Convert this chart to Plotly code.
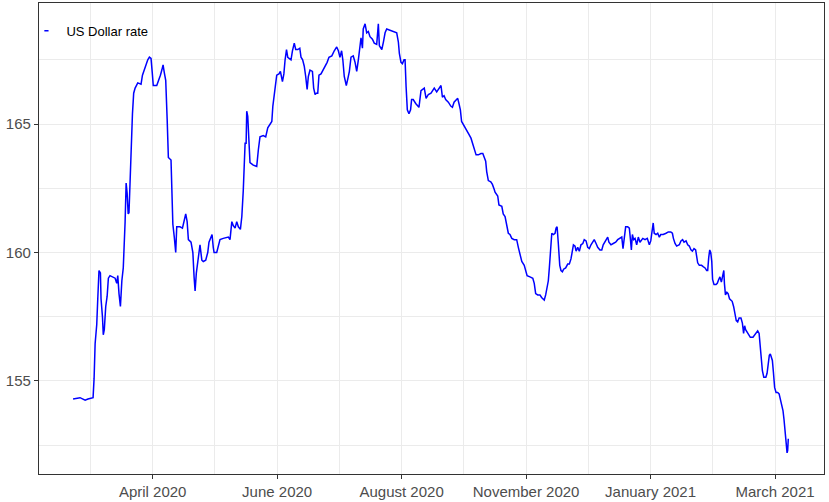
import pandas as pd
import plotly.graph_objects as go

start_date = "2020-02-22"

days = [
    0, 3.4, 5.9, 7.3, 9.8, 10.3, 10.8, 11.6, 12.1, 12.7, 13.4, 13.7, 14.4, 14.8, 15.3, 16.0, 16.7, 17.3, 18.1, 19.7,
    20.6, 21.4, 21.9, 22.5, 23.2, 23.9, 24.6, 25.5, 26.0, 26.5, 27.0, 27.4, 27.9, 28.4, 29.1, 29.7, 30.4, 31.7, 33.3, 34.0,
    34.9, 35.6, 36.6, 37.4, 38.2, 38.8, 39.3, 41.0, 41.8, 42.8, 43.5, 44.1, 44.7, 45.4, 46.1, 46.7, 48.0, 48.4, 48.9, 49.6,
    50.3, 50.8, 52.4, 53.6, 54.5, 55.2, 55.9, 56.5, 57.8, 58.7, 59.3, 59.8, 60.4, 61.1, 61.7, 62.2, 63.1, 63.8, 65.0, 66.0,
    66.6, 67.5, 68.1, 68.7, 69.1, 70.4, 71.2, 72.0, 73.6, 75.3, 76.1, 76.9, 77.8, 78.5, 79.4, 80.2, 81.0, 82.0, 82.7, 83.4,
    84.3, 84.8, 85.1, 85.6, 86.1, 86.7, 88.3, 90.0, 90.8, 91.6, 93.2, 94.4, 95.4, 96.5, 97.4, 97.9, 98.5, 99.3, 99.8, 100.9,
    101.6, 102.6, 103.3, 103.9, 104.6, 105.2, 105.8, 106.8, 107.5, 108.4, 109.1, 110.1, 111.1, 111.7, 112.5, 113.3, 114.0, 114.7, 115.3, 116.1,
    117.3, 117.9, 118.6, 119.2, 119.9, 120.5, 121.5, 122.5, 123.5, 124.5, 125.4, 126.8, 128.0, 129.2, 130.0, 130.8, 131.6, 132.2, 132.9, 133.9,
    134.6, 135.4, 136.2, 137.3, 138.2, 139.0, 139.8, 140.6, 141.1, 141.8, 142.2, 143.1, 143.9, 144.7, 145.5, 146.7, 147.6, 148.8, 149.6, 150.1,
    151.3, 152.1, 152.9, 153.7, 155.3, 156.9, 158.6, 159.4, 159.9, 160.7, 161.4, 162.2, 162.7, 163.2, 163.8, 164.6, 165.4, 165.9, 166.7, 167.9,
    168.9, 169.5, 170.5, 171.4, 172.1, 173.0, 174.1, 175.4, 176.5, 177.0, 178.2, 179.3, 180.3, 181.0, 181.8, 182.6, 183.9, 185.1, 185.9, 186.7,
    187.7, 188.5, 189.1, 189.8, 190.4, 191.6, 192.4, 193.2, 194.0, 195.0, 195.7, 196.5, 197.5, 198.6, 199.9, 200.8, 201.5, 202.2, 202.7, 203.5,
    204.7, 205.5, 206.4, 206.8, 208.1, 208.7, 210.1, 210.8, 211.7, 212.5, 213.3, 214.1, 215.0, 216.2, 217.4, 218.2, 219.0, 219.9, 221.1, 221.8,
    222.5, 223.9, 225.3, 226.0, 226.7, 227.7, 228.8, 229.6, 230.4, 230.9, 231.6, 232.3, 232.9, 233.4, 233.9, 234.6, 235.4, 236.2, 236.7, 237.2,
    237.8, 238.5, 239.1, 239.8, 240.4, 241.4, 242.4, 243.2, 244.0, 244.7, 245.2, 246.0, 246.5, 247.3, 248.1, 248.9, 249.8, 250.5, 251.4, 252.2,
    253.0, 253.8, 254.8, 255.4, 256.3, 257.1, 258.2, 259.1, 259.8, 261.0, 262.0, 262.6, 263.6, 264.7, 265.9, 266.9, 268.0, 268.9, 269.5, 270.1,
    270.8, 271.8, 272.6, 273.1, 273.6, 274.1, 274.7, 275.4, 276.2, 277.0, 277.8, 279.2, 280.3, 281.4, 282.4, 283.1, 283.7, 284.3, 284.8, 285.7,
    286.5, 287.3, 288.0, 289.2, 290.6, 291.7, 292.9, 293.7, 294.2, 295.0, 295.8, 297.1, 297.9, 298.7, 299.4, 300.4, 301.2, 302.0, 302.8, 303.5,
    304.3, 305.1, 305.6, 306.1, 306.9, 308.0, 308.8, 309.7, 310.5, 311.0, 311.5, 312.0, 312.5, 313.0, 313.4, 314.1, 315.1, 315.7, 316.4, 317.0,
    317.7, 318.4, 318.9, 319.2, 319.7, 320.4, 321.0, 321.7, 322.4, 323.0, 323.7, 324.4, 325.0, 325.7, 326.4, 327.3, 328.0, 328.6, 329.1, 329.6,
    330.3, 330.9, 331.9, 333.2, 334.2, 334.9, 335.5, 336.2, 336.7, 337.2, 337.8, 338.5, 339.5, 340.1, 340.6, 341.2, 341.7, 342.2, 342.7, 343.2,
    343.8, 344.5, 345.3, 346.0, 346.6, 347.5, 347.9, 348.4, 348.9, 349.2, 349.6, 349.9, 350.2, 350.5,
]

usd_rate = [
    154.3, 154.35, 154.25, 154.3, 154.35, 155.1, 156.45, 157.2, 158.2, 159.3, 159.2, 158.2, 157.5, 156.8, 157.0, 157.9, 158.3, 159.0, 159.1, 159.05,
    159.0, 158.8, 159.1, 158.4, 157.9, 158.9, 159.4, 161.2, 162.7, 162.3, 161.5, 161.55, 162.6, 164.4, 165.4, 166.2, 166.4, 166.6, 166.55, 166.9,
    167.1, 167.3, 167.5, 167.6, 167.55, 167.0, 166.5, 166.5, 166.65, 166.9, 167.1, 167.3, 167.0, 166.7, 165.2, 163.7, 163.6, 162.4, 161.1, 160.6,
    160.0, 161.0, 161.0, 160.95, 161.2, 161.5, 161.2, 160.5, 160.4, 160.0, 159.05, 158.5, 159.2, 159.6, 160.0, 160.3, 159.7, 159.65, 159.7, 160.0,
    160.4, 160.6, 160.7, 160.2, 160.0, 160.0, 160.25, 160.5, 160.55, 160.6, 160.6, 160.5, 161.2, 161.05, 160.95, 161.2, 161.0, 160.9, 161.4, 162.4,
    164.25, 164.25, 165.5, 165.3, 164.3, 163.5, 163.4, 163.35, 164.0, 164.5, 164.55, 164.5, 164.85, 165.0, 165.1, 165.7, 166.1, 166.5, 166.9, 166.95,
    167.05, 166.65, 166.95, 167.5, 167.9, 167.6, 167.55, 167.5, 167.85, 168.15, 167.9, 167.9, 167.95, 167.6, 167.5, 167.25, 166.85, 166.35, 166.85, 167.1,
    167.05, 166.4, 166.15, 166.2, 166.2, 166.9, 166.95, 167.1, 167.25, 167.4, 167.6, 167.65, 167.85, 168.0, 167.85, 167.6, 167.85, 167.5, 166.85, 166.5,
    166.75, 167.05, 167.6, 167.65, 167.4, 167.05, 167.5, 168.2, 168.35, 167.95, 168.7, 168.9, 168.55, 168.6, 168.4, 168.3, 168.15, 168.1, 168.9, 168.05,
    167.9, 168.2, 168.55, 168.7, 168.65, 168.6, 168.55, 168.2, 167.75, 167.4, 167.35, 167.5, 167.5, 166.45, 165.55, 165.4, 165.55, 165.95, 165.95, 165.8,
    165.7, 165.65, 166.3, 166.35, 166.4, 166.0, 166.15, 166.2, 166.35, 166.4, 166.25, 166.4, 166.5, 166.05, 166.1, 165.95, 165.85, 165.7, 165.65, 165.85,
    165.95, 166.0, 165.8, 165.55, 165.1, 164.95, 164.85, 164.7, 164.6, 164.45, 164.25, 164.0, 163.8, 163.8, 163.85, 163.85, 163.7, 163.55, 163.15, 162.8,
    162.75, 162.65, 162.45, 162.35, 162.2, 161.85, 161.8, 161.5, 161.4, 161.1, 160.75, 160.7, 160.55, 160.5, 160.5, 160.2, 159.95, 159.65, 159.5, 159.25,
    159.1, 159.05, 159.0, 158.8, 158.4, 158.35, 158.35, 158.25, 158.2, 158.15, 158.35, 158.65, 158.9, 159.4, 160.2, 160.75, 160.7, 160.75, 160.95, 161.0,
    160.35, 159.5, 159.3, 159.25, 159.35, 159.4, 159.55, 159.55, 159.75, 160.1, 160.3, 160.25, 160.05, 160.2, 160.05, 160.3, 160.35, 160.5, 160.45, 160.2,
    160.15, 160.3, 160.4, 160.5, 160.35, 160.2, 160.1, 160.1, 160.3, 160.5, 160.6, 160.4, 160.3, 160.35, 160.4, 160.5, 160.55, 160.6, 160.15, 160.5,
    161.0, 161.0, 160.95, 160.55, 160.1, 160.7, 160.5, 160.55, 160.3, 160.6, 160.4, 160.55, 160.5, 160.55, 160.3, 160.45, 160.95, 161.15, 160.75, 160.7,
    160.75, 160.6, 160.7, 160.7, 160.75, 160.8, 160.8, 160.75, 160.55, 160.35, 160.25, 160.3, 160.45, 160.5, 160.4, 160.45, 160.3, 160.25, 160.1, 160.05,
    160.15, 160.1, 159.85, 159.6, 159.5, 159.5, 159.45, 159.4, 159.3, 159.3, 159.8, 160.1, 160.0, 159.65, 158.95, 158.75, 158.75, 158.8, 158.95, 159.05,
    158.85, 159.1, 159.3, 158.8, 158.35, 158.45, 158.4, 158.2, 158.15, 158.1, 157.9, 157.65, 157.35, 157.3, 157.45, 157.45, 157.25, 156.85, 157.15, 157.0,
    156.9, 156.8, 156.7, 156.7, 156.8, 156.9, 156.95, 156.85, 156.4, 155.8, 155.4, 155.15, 155.15, 155.3, 155.7, 156.0, 156.05, 155.85, 155.8, 155.35,
    154.75, 154.55, 154.55, 154.5, 154.3, 154.1, 153.85, 153.5, 152.95, 152.7, 152.4, 152.2, 152.3, 152.75,
]

tick_dates = ["2020-04-01", "2020-06-01", "2020-08-01", "2020-10-01", "2020-12-01", "2021-01-31"]
tick_labels = ["April 2020", "June 2020", "August 2020", "November 2020", "January 2021", "March 2021"]
y_ticks = [155, 160, 165]
y_minor = [152.5, 157.5, 162.5, 167.5]
series_name = "US Dollar rate"

dates = pd.to_datetime(start_date) + pd.to_timedelta(days, unit="D")
tdates = pd.to_datetime(tick_dates)
step = tdates[1] - tdates[0]
minor_dates = [tdates[0] - step / 2] + [tdates[i] + (tdates[i + 1] - tdates[i]) / 2 for i in range(len(tdates) - 1)]

x_lo = pd.to_datetime(start_date) - pd.Timedelta(days=16.7)
x_hi = pd.to_datetime(start_date) + pd.Timedelta(days=368)

fig = go.Figure()
fig.add_trace(go.Scatter(
    x=dates, y=usd_rate, mode="lines", name=series_name, showlegend=False,
    line=dict(color="#0000FF", width=1.5),
))
fig.add_trace(go.Scatter(
    x=[None], y=[None], mode="markers", name=series_name, showlegend=True,
    marker=dict(symbol="line-ew", size=3, color="#0000FF", line=dict(color="#0000FF", width=1.5)),
))

axis_font = dict(family="Arial, 'Liberation Sans', sans-serif", size=15, color="#4D4D4D")

fig.update_layout(
    width=829, height=502,
    margin=dict(l=39, r=5, t=3, b=28, autoexpand=False),
    paper_bgcolor="white", plot_bgcolor="white",
    font=dict(family="Arial, 'Liberation Sans', sans-serif"),
    showlegend=True,
    legend=dict(
        x=-0.016, y=0.973, xanchor="left", yanchor="top",
        bgcolor="rgba(0,0,0,0)", borderwidth=0,
        font=dict(size=13, color="black"),
    ),
    xaxis=dict(
        type="date", range=[x_lo, x_hi], automargin=False,
        tickmode="array", tickvals=tdates, ticktext=tick_labels,
        tickfont=axis_font, ticks="outside", ticklen=4, tickwidth=1.2, tickcolor="#333333",
        showgrid=True, gridcolor="#EBEBEB", gridwidth=1.2,
        minor=dict(tickmode="array", tickvals=minor_dates, showgrid=True, gridcolor="#EBEBEB", gridwidth=1.0, ticks=""),
        showline=True, linecolor="#333333", linewidth=1.3, mirror=True,
        zeroline=False,
    ),
    yaxis=dict(
        range=[151.38, 169.71], automargin=False,
        tickmode="array", tickvals=y_ticks,
        tickfont=axis_font, ticks="outside", ticklen=4, tickwidth=1.2, tickcolor="#333333",
        showgrid=True, gridcolor="#EBEBEB", gridwidth=1.2,
        minor=dict(tickmode="array", tickvals=y_minor, showgrid=True, gridcolor="#EBEBEB", gridwidth=1.0, ticks=""),
        showline=True, linecolor="#333333", linewidth=1.3, mirror=True,
        zeroline=False,
    ),
)

fig.write_html(
    "out.html",
    config={"displayModeBar": False},
    post_script="document.body.style.margin='0';document.body.style.overflow='hidden';",
)
